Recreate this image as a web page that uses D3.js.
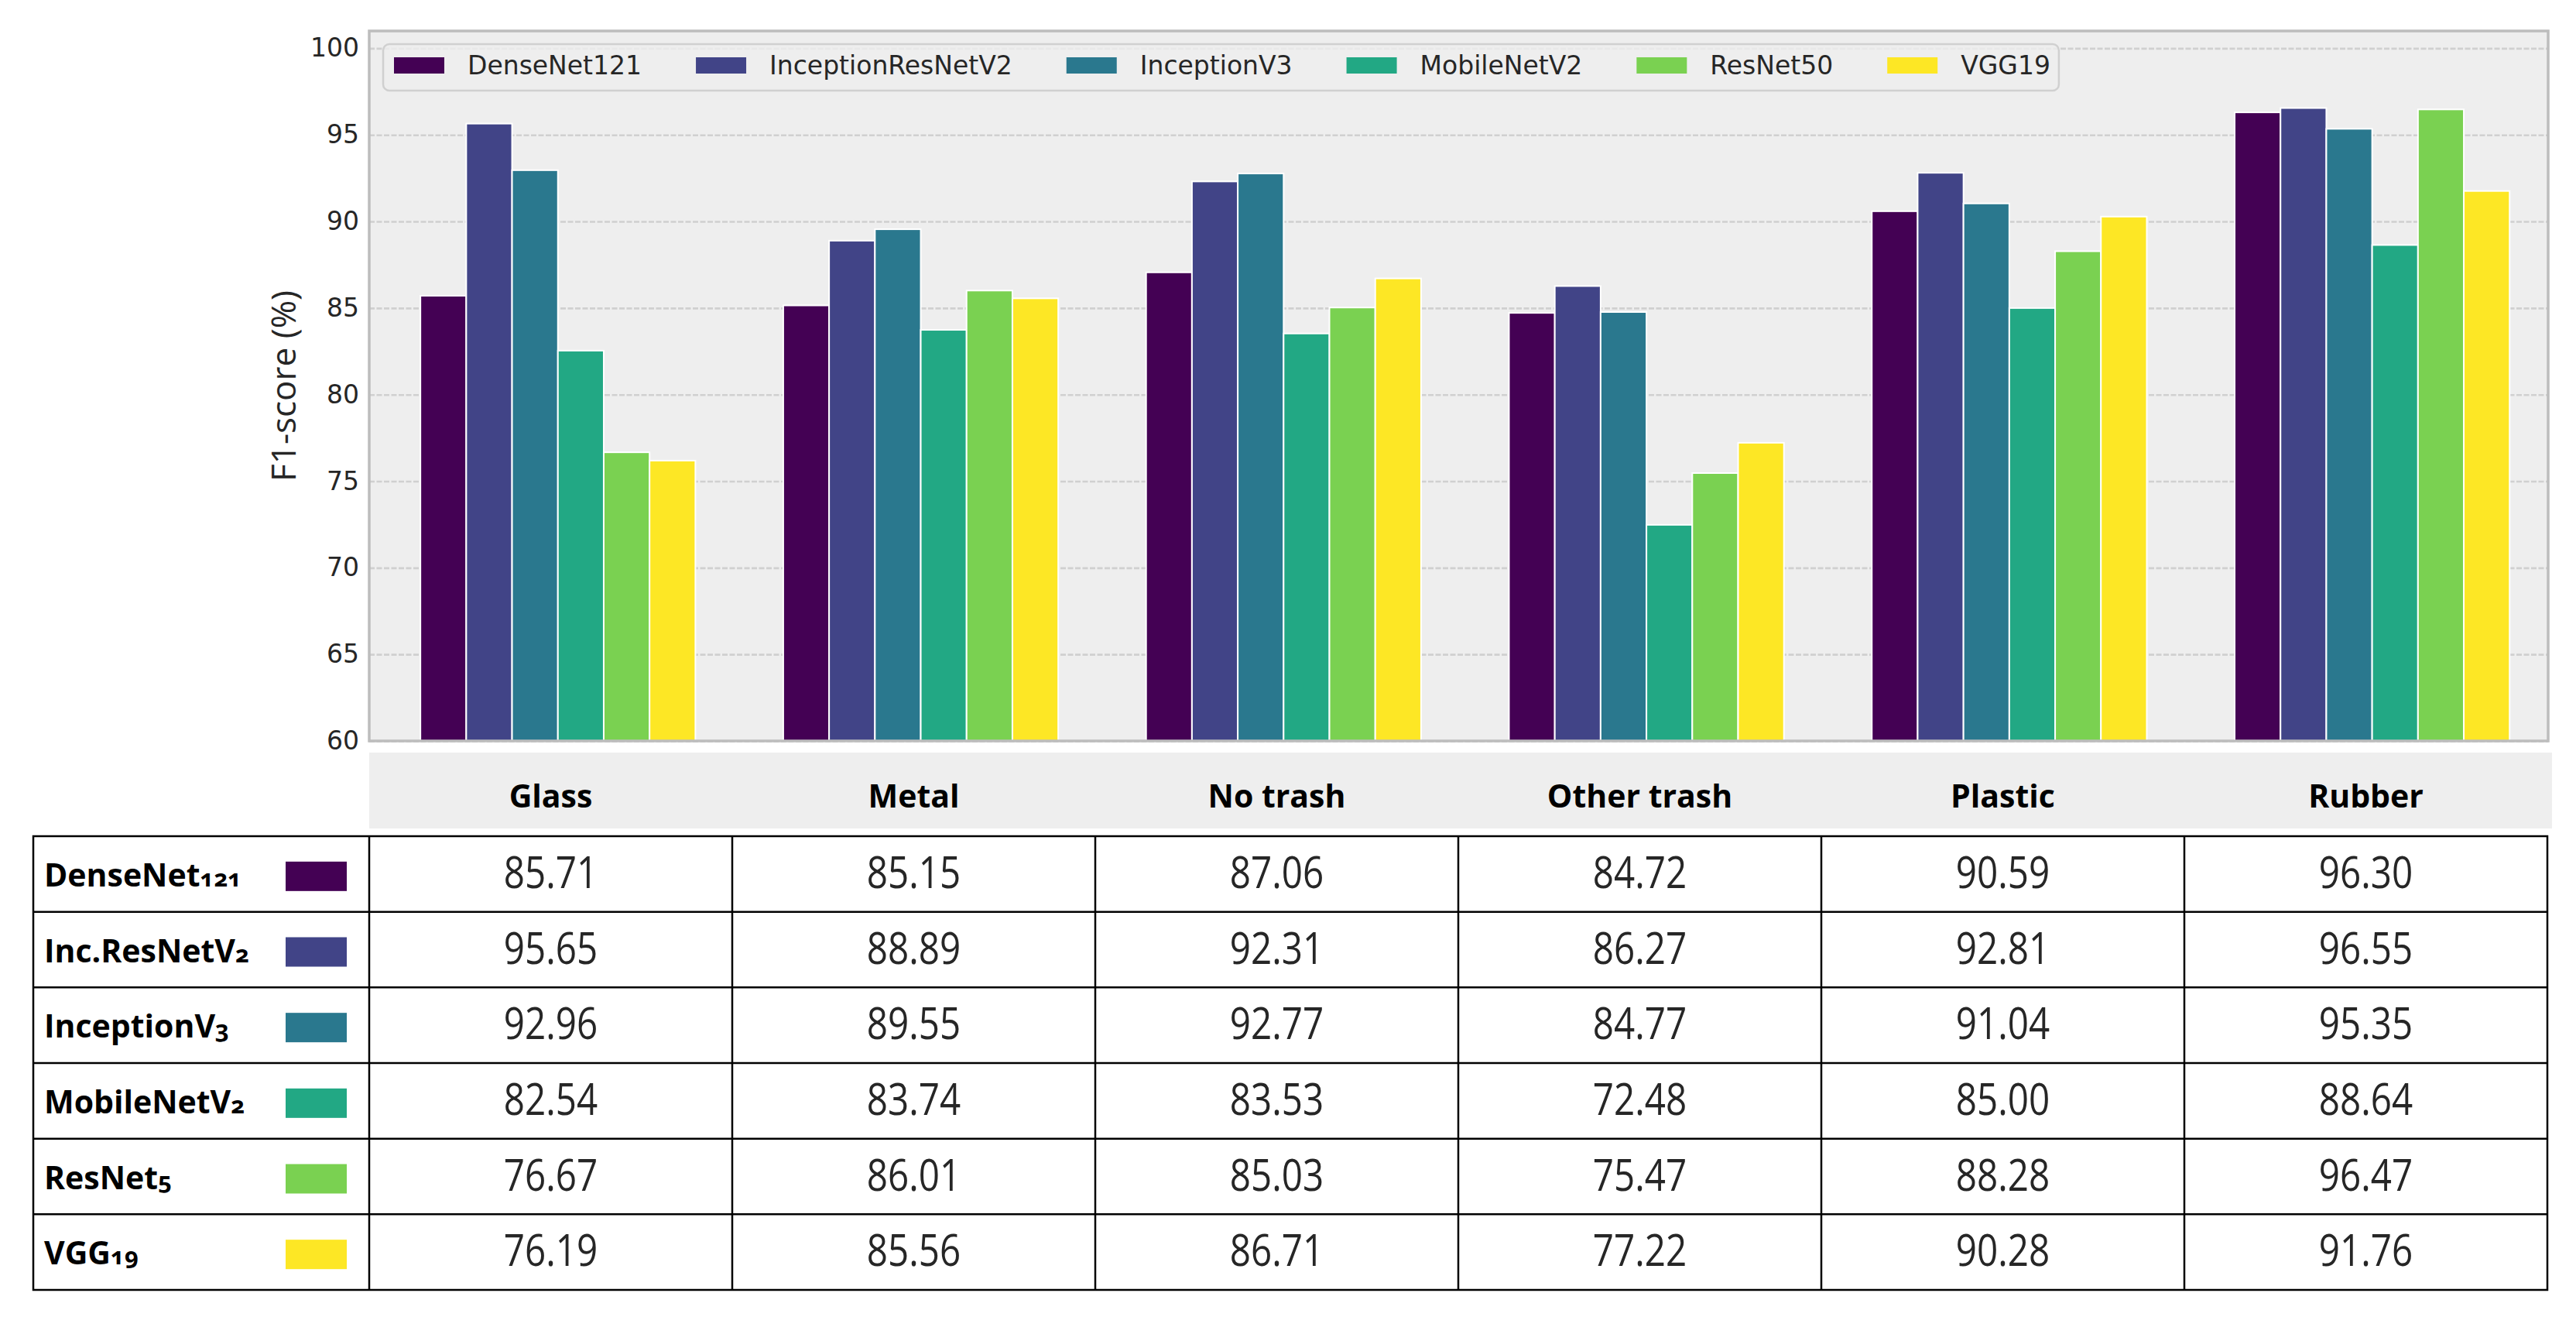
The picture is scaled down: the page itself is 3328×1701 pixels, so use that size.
<!DOCTYPE html>
<html>
<head>
<meta charset="utf-8">
<script src="https://cdn.jsdelivr.net/npm/d3@7"></script>
<style>
  body { margin: 0; background: #fff; }
  svg { display: block; }
</style>
</head>
<body>
<div id="chart"></div>
<script>
const width = 3328;
const height = 1701;

// data
const categories = ["Glass", "Metal", "No trash", "Other trash", "Plastic", "Rubber"];
const models = ["DenseNet121", "InceptionResNetV2", "InceptionV3", "MobileNetV2", "ResNet50", "VGG19"];
// table row labels as printed (name + small digits)
const rowLabels = [["DenseNet", "121"], ["Inc.ResNetV", "2"], ["InceptionV", "3"], ["MobileNetV", "2"], ["ResNet", "5"], ["VGG", "19"]];
const colors = ["#440154", "#414487", "#2a788e", "#22a884", "#7ad151", "#fde725"];

const denseNet121 = [85.71, 85.15, 87.06, 84.72, 90.59, 96.30];
const inceptionResNetV2 = [95.65, 88.89, 92.31, 86.27, 92.81, 96.55];
const inceptionV3 = [92.96, 89.55, 92.77, 84.77, 91.04, 95.35];
const mobileNetV2 = [82.54, 83.74, 83.53, 72.48, 85.00, 88.64];
const resNet50 = [76.67, 86.01, 85.03, 75.47, 88.28, 96.47];
const vgg19 = [76.19, 85.56, 86.71, 77.22, 90.28, 91.76];
const scores = [denseNet121, inceptionResNetV2, inceptionV3, mobileNetV2, resNet50, vgg19];

const yTicks = [60, 65, 70, 75, 80, 85, 90, 95, 100];

// layout
const plot = { left: 477, right: 3292, top: 40, bottom: 957 };
const tableTop = 1080, tableBottom = 1666, tableLeft = 43, tableRight = 3291;
const barW = 0.1263;

const svg = d3.select('#chart')
    .append('svg')
    .attr('width', width)
    .attr('height', height)
    .attr('viewBox', `0 0 ${width} ${height}`);

const x = d3.scaleLinear()
    .domain([-0.52, 5.485])
    .range([plot.left, plot.right]);

const y = d3.scaleLinear()
    .domain([60, 101])
    .range([plot.bottom, plot.top]);

// plot background
svg.append('rect')
    .attr('x', plot.left)
    .attr('y', plot.top)
    .attr('width', plot.right - plot.left)
    .attr('height', plot.bottom - plot.top)
    .attr('fill', '#eeeeee');

// dashed grid
const grid = svg.append('g')
    .attr('transform', `translate(${plot.left},0)`)
    .call(d3.axisLeft(y).tickValues(yTicks).tickSize(-(plot.right - plot.left)).tickFormat(''));
grid.select('.domain').remove();
grid.selectAll('line')
    .attr('stroke', '#d0d0d0')
    .attr('stroke-width', 2.6)
    .attr('stroke-dasharray', '7,2.5');

// bars
const barData = [];
scores.forEach((vals, j) => {
    vals.forEach((v, i) => barData.push({ i, j, v }));
});

svg.append('g')
    .selectAll('rect')
    .data(barData)
    .join('rect')
        .attr('x', d => x(d.i + (d.j - 3) * barW))
        .attr('y', d => y(d.v))
        .attr('width', d => x(barW) - x(0))
        .attr('height', d => y(60) - y(d.v))
        .attr('fill', d => colors[d.j])
        .attr('stroke', '#ffffff')
        .attr('stroke-width', 2);

// frame
svg.append('rect')
    .attr('x', plot.left)
    .attr('y', plot.top)
    .attr('width', plot.right - plot.left)
    .attr('height', plot.bottom - plot.top)
    .attr('fill', 'none')
    .attr('stroke', '#bdbdbd')
    .attr('stroke-width', 3.5);

// y axis labels
const yAxis = svg.append('g')
    .attr('transform', `translate(${plot.left},0)`)
    .call(d3.axisLeft(y).tickValues(yTicks).tickSize(0).tickPadding(13));
yAxis.select('.domain').remove();
yAxis.selectAll('text')
    .attr('font-family', 'DejaVu Sans')
    .attr('font-size', 33)
    .attr('fill', '#262626');

svg.append('text')
    .text('F1-score (%)')
    .attr('text-anchor', 'middle')
    .attr('transform', `translate(382, ${(plot.top + plot.bottom) / 2}) rotate(-90)`)
    .attr('font-family', 'Open Sans')
    .attr('font-size', 44)
    .attr('fill', '#262626');

// legend
const legendG = svg.append('g');
const legendBox = legendG.append('rect')
    .attr('x', 495)
    .attr('y', 57)
    .attr('height', 60)
    .attr('rx', 8)
    .attr('fill', '#eeeeee')
    .attr('fill-opacity', 0.8)
    .attr('stroke', '#d0d0d0')
    .attr('stroke-width', 2.5);

let lx = 509;
models.forEach((m, j) => {
    legendG.append('rect')
        .attr('x', lx)
        .attr('y', 74)
        .attr('width', 65)
        .attr('height', 21)
        .attr('fill', colors[j]);
    const t = legendG.append('text')
        .text(m)
        .attr('x', lx + 95)
        .attr('y', 96)
        .attr('font-family', 'DejaVu Sans')
        .attr('font-size', 33)
        .attr('fill', '#262626');
    const tw = t.node().getComputedTextLength();
    if (j === models.length - 1) legendBox.attr('width', lx + 95 + tw + 11 - 495);
    lx = lx + 95 + tw + 70;
});

// table
const col = d3.scaleBand().domain(categories).range([plot.left, tableRight]);
const row = d3.scaleBand().domain(models).range([tableTop, tableBottom]);

// header band
svg.append('rect')
    .attr('x', plot.left)
    .attr('y', 972)
    .attr('width', 3297 - plot.left)
    .attr('height', 98)
    .attr('fill', '#eeeeee');

svg.append('g')
    .selectAll('text')
    .data(categories)
    .join('text')
        .text(d => d)
        .attr('x', d => col(d) + col.bandwidth() / 2)
        .attr('y', 1043)
        .attr('text-anchor', 'middle')
        .attr('font-family', 'Open Sans')
        .attr('font-weight', 'bold')
        .attr('font-size', 41)
        .attr('fill', '#000');

// table cells
const lines = svg.append('g')
    .attr('stroke', '#000')
    .attr('stroke-width', 2.5);

lines.append('rect')
    .attr('x', tableLeft)
    .attr('y', tableTop)
    .attr('width', tableRight - tableLeft)
    .attr('height', tableBottom - tableTop)
    .attr('fill', 'none');

lines.selectAll('.vline')
    .data(categories)
    .join('line')
        .attr('class', 'vline')
        .attr('x1', d => col(d))
        .attr('x2', d => col(d))
        .attr('y1', tableTop)
        .attr('y2', tableBottom);

lines.selectAll('.hline')
    .data(models.slice(1))
    .join('line')
        .attr('class', 'hline')
        .attr('x1', tableLeft)
        .attr('x2', tableRight)
        .attr('y1', d => row(d))
        .attr('y2', d => row(d));

// row labels and swatches
models.forEach((m, j) => {
    const cy = row(m) + row.bandwidth() / 2;
    const t = svg.append('text')
        .attr('x', 57)
        .attr('y', cy + 16)
        .attr('font-family', 'Open Sans')
        .attr('font-weight', 'bold')
        .attr('font-size', 41)
        .attr('fill', '#000')
        .style('font-variant-numeric', 'oldstyle-nums');
    t.append('tspan').text(rowLabels[j][0]);
    t.append('tspan').text(rowLabels[j][1]).attr('font-size', 31);

    svg.append('rect')
        .attr('x', 369)
        .attr('y', cy - 16)
        .attr('width', 79)
        .attr('height', 38)
        .attr('fill', colors[j]);
});

// values
const cellData = [];
scores.forEach((vals, j) => vals.forEach((v, i) => cellData.push({ m: models[j], c: categories[i], v })));

svg.append('g')
    .selectAll('text')
    .data(cellData)
    .join('text')
        .text(d => d.v.toFixed(2))
        .attr('text-anchor', 'middle')
        .attr('transform', d => `translate(${col(d.c) + col.bandwidth() / 2}, ${row(d.m) + 67}) scale(0.85,1)`)
        .attr('font-family', 'Open Sans')
        .attr('font-size', 56)
        .attr('fill', '#262626');
</script>
</body>
</html>
